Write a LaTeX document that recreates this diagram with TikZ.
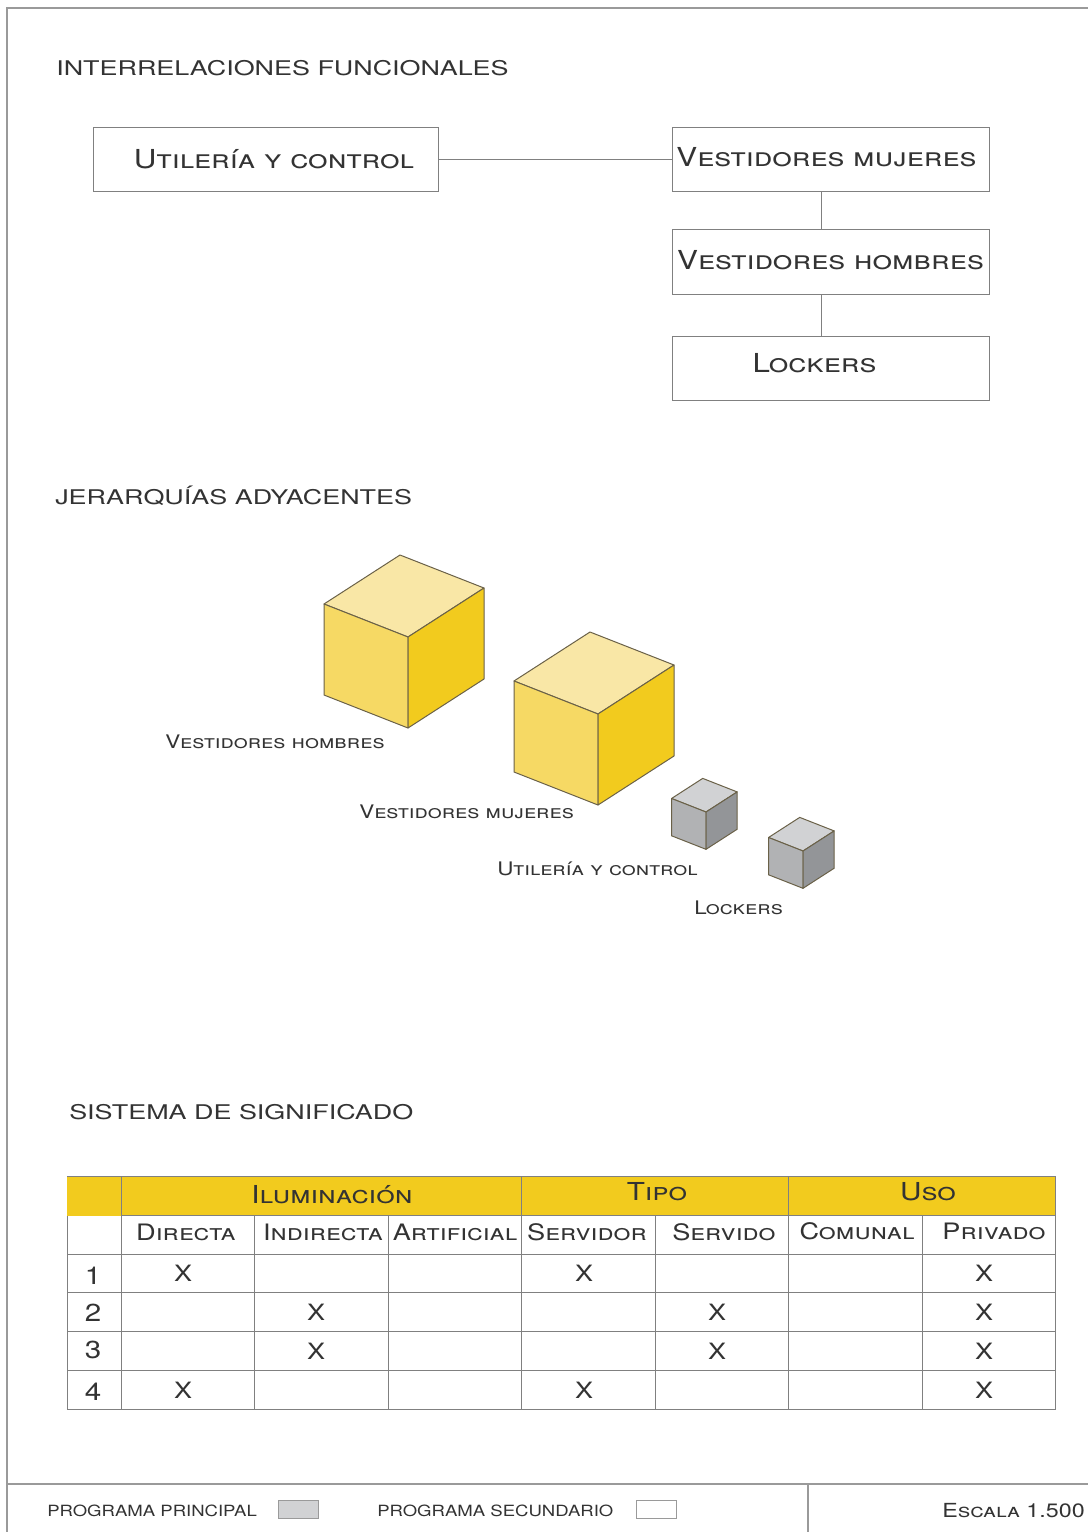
\documentclass[tikz,border=0pt]{standalone}
\usepackage{fontspec}
\usepackage{xcolor}
\usetikzlibrary{positioning,calc}
\newfontfamily\platefont[FakeStretch=1.2]{TeX Gyre Heros}
\newfontfamily\widefont[FakeStretch=1.33]{TeX Gyre Heros}
\definecolor{inkgray}{HTML}{333333}
\definecolor{framegray}{HTML}{9A9A9A}
\definecolor{gridgray}{HTML}{808080}
\definecolor{bandyellow}{HTML}{F2CB1E}
\definecolor{yellowtop}{HTML}{F9E7A6}
\definecolor{yellowleft}{HTML}{F6D964}
\definecolor{graytop}{HTML}{D1D2D4}
\definecolor{grayleft}{HTML}{B1B2B4}
\definecolor{grayright}{HTML}{939598}
\definecolor{cubeedge}{HTML}{6A6148}
% one cube: scale, position, top, left and right colour
\newcommand{\isocube}[5]{
\begin{scope}[shift={#2},scale=#1]
\draw[cubeline, fill=#3] (0,0) -- (-84,-33) -- (-8,-82) -- (76,-49) -- cycle;
\draw[cubeline, fill=#4] (0,0) -- (-84,-33) -- (-84,58) -- (0,91) -- cycle;
\draw[cubeline, fill=#5] (0,0) -- (76,-49) -- (76,42) -- (0,91) -- cycle;
\end{scope}
}
\begin{document}
\begin{tikzpicture}[
    x=0.25mm, y=-0.25mm,
    box/.style={rectangle, draw=gridgray, line width=0.25mm, outer sep=0pt, inner sep=0pt, minimum width=79.25mm, minimum height=16.1mm, text=inkgray, font=\platefont\fontsize{18.6}{22}\selectfont\scshape},
    titletext/.style={anchor=west, inner sep=0pt, text=inkgray, font=\widefont\fontsize{14.4}{16}\selectfont},
    cubelabel/.style={anchor=west, inner sep=0pt, text=inkgray, font=\platefont\fontsize{13.3}{16}\selectfont\scshape},
    headcell/.style={inner sep=0pt, text=inkgray, font=\platefont\fontsize{16.1}{20}\selectfont\scshape},
    bandcell/.style={inner sep=0pt, text=inkgray, font=\platefont\fontsize{17.6}{20}\selectfont\scshape},
    markcell/.style={inner sep=0pt, text=inkgray, font=\platefont\fontsize{16}{18}\selectfont},
    numcell/.style={inner sep=0pt, text=inkgray, font=\platefont\fontsize{17.5}{18}\selectfont},
    legendtext/.style={anchor=west, inner sep=0pt, text=inkgray, font=\platefont\fontsize{11}{13}\selectfont},
    framing/.style={draw=framegray, line width=0.35mm},
    gridline/.style={draw=gridgray, line width=0.24mm},
    link/.style={draw=gridgray, line width=0.25mm},
    cubeline/.style={draw=cubeedge, line width=0.25mm, line join=round}
]
\useasboundingbox (0,0) rectangle (1088,1532);

% Sheet frame
\coordinate (fa) at (7,1532);
\coordinate (fb) at (7,8);
\coordinate (fc) at (1088,8);
\coordinate (fd) at (7,1484);
\coordinate (fe) at (1088,1484);
\coordinate (ff) at (808,1484);
\coordinate (fg) at (808,1532);
\draw[framing] (fa) -- (fb) -- (fc);
\draw[framing] (fd) -- (fe);
\draw[framing] (ff) -- (fg);

% Titles
\node[titletext] (t1) at (56,68) {INTERRELACIONES FUNCIONALES};
\node[titletext] (t2) at (55,496) {JERARQUÍAS ADYACENTES};
\node[titletext] (t3) at (69,1112) {SISTEMA DE SIGNIFICADO};

% Boxes
\node[box, minimum width=86mm] (uc) at (266,159.5) {\hspace*{4mm}Utilería y control};
\node[box] (vm) at (830.5,159.5) {\raisebox{1.2mm}{Vestidores mujeres}\hspace*{2mm}};
\node[box, below=9.5mm of vm] (vh) {\raisebox{1mm}{Vestidores hombres}};
\node[box, below=10.6mm of vh] (lk) {\raisebox{3mm}{Lockers}\hspace*{8mm}};

% Links
\draw[link] (uc) -- (vm);
\draw[link] ($(vm.south)+(-9,0)$) -- ($(vh.north)+(-9,0)$);
\draw[link] ($(vh.south)+(-9,0)$) -- ($(lk.north)+(-9,0)$);

% Cubes
\isocube{1}{(408,637)}{yellowtop}{yellowleft}{bandyellow}
\isocube{1}{(598,714)}{yellowtop}{yellowleft}{bandyellow}
\isocube{0.41}{(706,812)}{graytop}{grayleft}{grayright}
\isocube{0.41}{(803,851)}{graytop}{grayleft}{grayright}

\node[cubelabel] (lh) at (165,742) {Vestidores hombres};
\node[cubelabel] (lm) at (359,812) {Vestidores mujeres};
\node[cubelabel] (lu) at (497,869) {Utilería y control};
\node[cubelabel] (ll) at (694,908) {Lockers};

% Table
\fill[bandyellow] (67,1176) rectangle (1055.5,1215);
\foreach \yrow in {1176,1215,1254,1292,1331,1370,1409}
    \draw[gridline] (67,\yrow) -- (1055.5,\yrow);
\foreach \xcol in {121,521.5,788.5,1055.5}
    \draw[gridline] (\xcol,1176) -- (\xcol,1409);
\foreach \xcol in {67,254,388,655,922}
    \draw[gridline] (\xcol,1215) -- (\xcol,1409);
\fill[bandyellow] (66.5,1177) rectangle (120.5,1215.5);

\node[bandcell] (h1) at (332,1195) {Iluminación};
\node[bandcell] (h2) at (657,1192) {Tipo};
\node[bandcell] (h3) at (928,1192) {Uso};

\foreach \xcol/\yrow/\name in {186/1232/Directa,323/1232/Indirecta,455/1232/Artificial,587/1232/Servidor,724/1232/Servido,857/1231/Comunal,994/1231/Privado}
    \node[headcell] (s\name) at (\xcol,\yrow) {\name};

\foreach \num/\yrow in {1/1276,2/1313,3/1350,4/1392}
    \node[numcell] (n\num) at (93,\yrow) {\num};

\foreach \xcol/\yrow in {183/1273,584/1273,984/1273,316/1312,717/1312,984/1312,316/1351,717/1351,984/1351,183/1390,584/1390,984/1390}
    \node[markcell] (x\xcol-\yrow) at (\xcol,\yrow) {X};

% Legend
\node[legendtext] (p1) at (47,1511) {PROGRAMA PRINCIPAL};
\node[rectangle, draw=framegray, fill=graytop, line width=0.25mm, minimum width=10mm, minimum height=4.4mm, inner sep=0pt] (k1) at (298,1509.5) {};
\node[legendtext] (p2) at (377,1511) {PROGRAMA SECUNDARIO};
\node[rectangle, draw=framegray, fill=white, line width=0.25mm, minimum width=10mm, minimum height=4.4mm, inner sep=0pt] (k2) at (656.5,1509.5) {};
\node[cubelabel, anchor=east, font=\platefont\fontsize{13.8}{16}\selectfont\scshape] (sc) at (1085,1511) {Escala 1.500};

\end{tikzpicture}
\end{document}
